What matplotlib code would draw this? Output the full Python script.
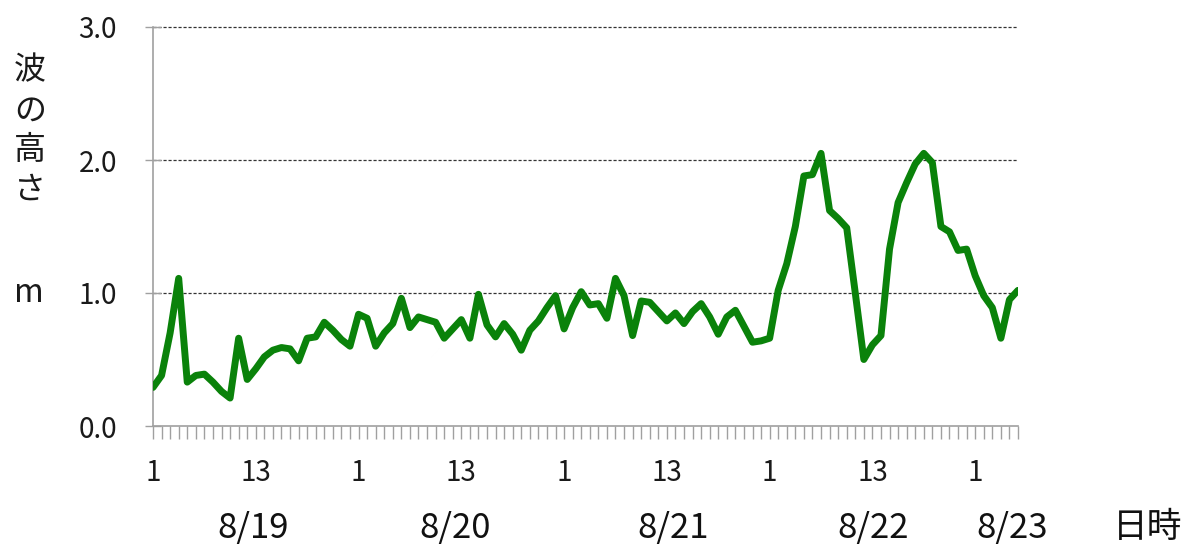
import matplotlib
matplotlib.use("Agg")
import matplotlib.pyplot as plt

plt.rcParams['font.family'] = ['Noto Sans CJK JP', 'DejaVu Sans']

# hourly wave height (m), 8/19 1:00 -> 8/23 6:00
wave_height = [
    0.29, 0.38, 0.70, 1.11, 0.33, 0.38, 0.39, 0.33, 0.26, 0.21,
    0.66, 0.35, 0.43, 0.52, 0.57, 0.59, 0.58, 0.49, 0.66, 0.67,
    0.78, 0.72, 0.65, 0.60, 0.84, 0.81, 0.60, 0.70, 0.77, 0.96,
    0.74, 0.82, 0.80, 0.78, 0.66, 0.73, 0.80, 0.66, 0.99, 0.76,
    0.67, 0.77, 0.69, 0.57, 0.72, 0.79, 0.89, 0.98, 0.73, 0.89,
    1.01, 0.91, 0.92, 0.81, 1.11, 0.98, 0.68, 0.94, 0.93, 0.86,
    0.79, 0.85, 0.77, 0.86, 0.92, 0.82, 0.69, 0.82, 0.87, 0.75,
    0.63, 0.64, 0.66, 1.02, 1.22, 1.50, 1.88, 1.89, 2.05, 1.62,
    1.56, 1.49, 1.00, 0.50, 0.61, 0.68, 1.33, 1.68, 1.83, 1.97,
    2.05, 1.98, 1.50, 1.46, 1.32, 1.33, 1.13, 0.98, 0.89, 0.66,
    0.95, 1.02,
]

hour_ticks = [0, 12, 24, 36, 48, 60, 72, 84, 96]
hour_labels = ["1", "13", "1", "13", "1", "13", "1", "13", "1"]

y_ticks = [0.0, 1.0, 2.0, 3.0]
y_labels = ["0.0", "1.0", "2.0", "3.0"]

date_labels = ["8/19", "8/20", "8/21", "8/22", "8/23", "日時"]
date_x = [253, 455, 673, 873, 1012, 1148]  # pixel centres along the bottom

ylabel_chars = ["波", "の", "高", "さ"]
ylabel_y = [70, 111, 150, 190]

W, H = 1187, 547
fig = plt.figure(figsize=(W / 100, H / 100), dpi=100)
ax = fig.add_axes([153 / W, 121 / H, 865 / W, 399 / H])

x = list(range(len(wave_height)))
ax.plot(x, wave_height, color='#0a820a', lw=5, solid_joinstyle='round',
        solid_capstyle='round', zorder=3)

ax.set_xlim(0, len(wave_height) - 1)
ax.set_ylim(0, 3)

# gridlines
for yv in y_ticks[1:]:
    ax.axhline(yv, color='#333333', lw=0.9, ls=(0, (2.5, 1.5)), zorder=1, clip_on=False)

for s in ['top', 'right']:
    ax.spines[s].set_visible(False)
for s in ['left', 'bottom']:
    ax.spines[s].set_color('#a0a0a0')
    ax.spines[s].set_linewidth(1.2)

ax.set_yticks(y_ticks)
ax.set_yticklabels(y_labels)
ax.tick_params(axis='y', direction='inout', length=12, width=1, color='#a0a0a0',
               labelsize=20, labelcolor='#1a1a1a', pad=20)

# a tick for every hour, labels every 12 hours
ax.set_xticks(x)
xl = [""] * len(x)
for t, lab in zip(hour_ticks, hour_labels):
    xl[t] = lab
ax.set_xticklabels(xl)
ax.tick_params(axis='x', direction='out', length=9, width=1, color='#a0a0a0',
               labelsize=20, labelcolor='#1a1a1a', pad=14)

for d, px in zip(date_labels, date_x):
    fig.text(px / W, 1 - 528 / H, d, ha='center', va='center', fontsize=25, color='#111111')

for ch, py in zip(ylabel_chars, ylabel_y):
    fig.text(30 / W, 1 - py / H, ch, ha='center', va='center', fontsize=23, color='#1a1a1a')
fig.text(29 / W, 1 - 293 / H, "m", ha='center', va='center', fontsize=23, color='#1a1a1a')

fig.savefig("out.png", dpi=100, facecolor='white')
